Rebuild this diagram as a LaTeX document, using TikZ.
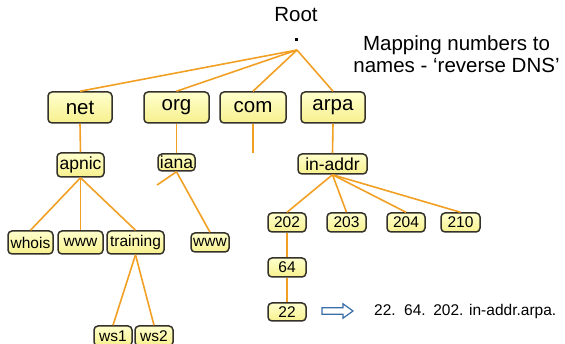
\documentclass[tikz,border=0pt]{standalone}
\usepackage{fontspec}
\setmainfont{Liberation Sans}
\definecolor{branch}{HTML}{F2A024}
\definecolor{boxtop}{HTML}{FFFFCC}
\definecolor{boxbot}{HTML}{F7F08E}
\definecolor{boxline}{HTML}{33312A}
\definecolor{arrowblue}{HTML}{3A6EA8}
\tikzset{
  x=1pt, y=-1pt,
  dnsbox/.style={draw=boxline, line width=1.5pt, rounded corners=4pt,
    top color=boxtop, bottom color=boxbot, inner sep=0pt,
    minimum width=#1},
  bigbox/.style={dnsbox=#1, minimum height=31pt, font=\fontsize{20.5}{22}\selectfont},
  midbox/.style={dnsbox=#1, font=\fontsize{17.5}{19}\selectfont},
  leafbox/.style={dnsbox=#1, font=\fontsize{15.5}{17}\selectfont},
  link/.style={draw=branch, line width=1.6pt},
}
\begin{document}
\begin{tikzpicture}
\useasboundingbox (0,0) rectangle (565,344);

% root and caption
\node[font=\fontsize{20.5}{22}\selectfont] (roottext) at (296,15) {Root};
\node[fill=black, minimum size=3pt, inner sep=0pt] (rootdot) at (296,40) {};
\coordinate (root) at (297,50);
\node[font=\fontsize{20.5}{22}\selectfont, align=center] (caption) at (456.5,54)
  {Mapping numbers to\\names - ‘reverse DNS’};

% top-level domains
\node[bigbox=64pt] (net)  at (80,107.5)  {net};
\node[bigbox=65pt] (org)  at (176.5,107.5) {org};
\node[bigbox=66pt] (com)  at (253,107.5) {com};
\node[bigbox=64pt] (arpa) at (333,107.5) {arpa};

% second level
\node[midbox=47pt, minimum height=24pt] (apnic) at (80.5,165) {apnic};
\node[midbox=37pt, minimum height=17pt] (iana)  at (176.5,162.5) {iana};
\node[midbox=69pt, minimum height=20pt] (inaddr) at (332.5,164) {in-addr};
\coordinate (comend) at (253,153);
\coordinate (ianastub) at (157,185);

% hosts below apnic and iana
\node[leafbox=45pt, minimum height=23pt] (whois)    at (30.5,242.5) {whois};
\node[leafbox=45pt, minimum height=23pt] (www)      at (80.5,242.5) {www};
\node[leafbox=57pt, minimum height=23pt] (training) at (135.5,242.5) {training};
\node[leafbox=38pt, minimum height=19pt] (ianawww)  at (210,242.5) {www};
\node[leafbox=38pt, minimum height=20pt] (ws1) at (113,336) {ws1};
\node[leafbox=38pt, minimum height=20pt] (ws2) at (154,336) {ws2};

% in-addr.arpa subtree
\node[leafbox=38pt, minimum height=19pt] (n202) at (287,222.5) {202};
\node[leafbox=39pt, minimum height=19pt] (n203) at (346.5,222.5) {203};
\node[leafbox=38pt, minimum height=19pt] (n204) at (406,222.5) {204};
\node[leafbox=39pt, minimum height=19pt] (n210) at (460.5,222.5) {210};
\node[leafbox=38pt, minimum height=19pt] (n64)  at (287,267.5) {64};
\node[leafbox=38pt, minimum height=18pt] (n22)  at (287,312) {22};

% hollow arrow pointing to the resulting name
\draw[arrowblue, line width=1.2pt, line join=miter, fill=white]
  (322,307.8) -- (343,307.8) -- (343,303.8) -- (353,311)
  -- (343,318.2) -- (343,314.2) -- (322,314.2) -- cycle;
\node[anchor=west, font=\fontsize{15.5}{17}\selectfont, inner sep=0pt] (result) at (374,311)
  {22.\hspace{8.5pt}64.\hspace{7.5pt}202. in-addr.arpa.};

% branches
\foreach \t in {net,org,com,arpa}
  \draw[link] (root) -- (\t.north);
\draw[link] (net.south) -- (apnic.north);
\draw[link] (org.south) -- (iana.north);
\draw[link] (com.south) -- (comend);
\draw[link] (arpa.south) -- (inaddr.north);
\foreach \t in {whois,www,training}
  \draw[link] (apnic.south) -- (\t.north);
\draw[link] (iana.south) -- (ianawww.north);
\draw[link] (iana.south) -- (ianastub);
\draw[link] (training.south) -- (ws1.north);
\draw[link] (training.south) -- (ws2.north);
\foreach \t in {n202,n203,n204,n210}
  \draw[link] (inaddr.south) -- (\t.north);
\draw[link] (n202.south) -- (n64.north);
\draw[link] (n64.south) -- (n22.north);
\end{tikzpicture}
\end{document}
